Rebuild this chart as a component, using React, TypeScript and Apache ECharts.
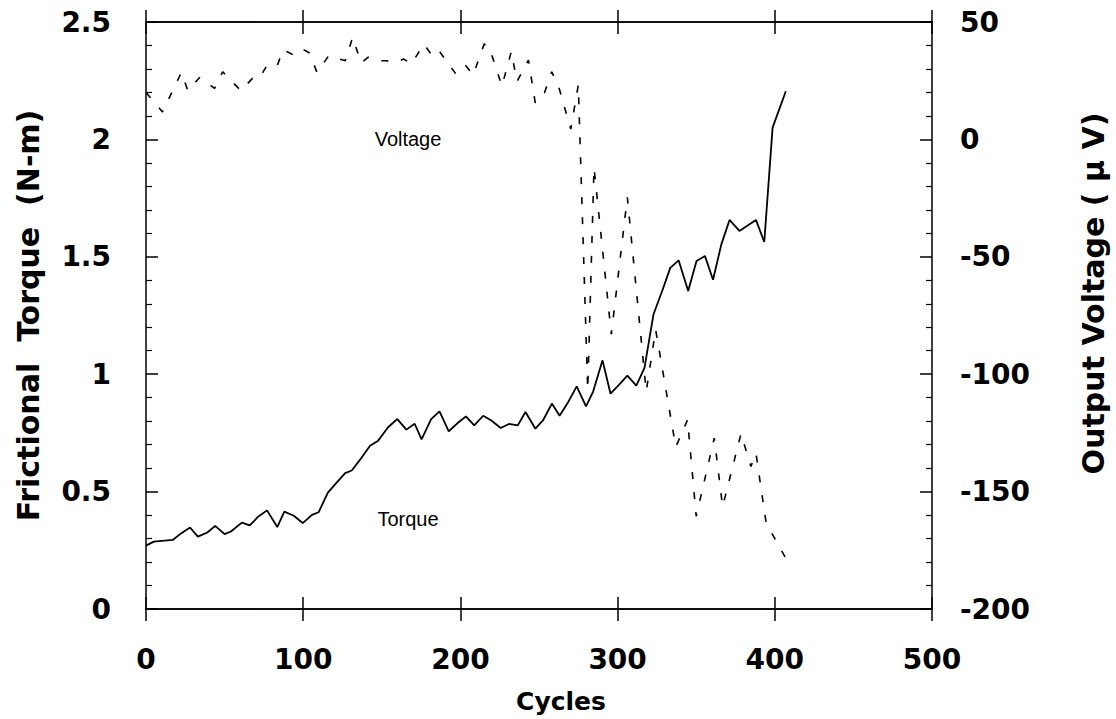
import React, { useEffect, useRef } from "react";
import * as echarts from "echarts";

const torqueCycles = [0, 5, 17, 22.5, 28, 33, 39, 44, 50, 54, 61, 66, 71.5, 77, 83.5, 88, 94, 99.7, 105.6, 109.8, 115.7, 121.4, 126.7, 130.9, 136.2, 142.5, 147.7, 154, 159.9, 165.6, 170.9, 175.3, 181.4, 186.7, 192.6, 198.2, 203.5, 208.8, 214.5, 219.7, 225.6, 230.9, 236.5, 241.4, 247.7, 252.5, 258.2, 263.1, 268.8, 274, 279.9, 284.5, 290.4, 295.5, 301, 306.2, 311.9, 317.1, 322.8, 328.7, 333.5, 338.8, 344.9, 350.2, 355.6, 360.7, 366, 371.2, 377.5, 388, 393.3, 398.6, 407];
const torqueValues = [0.27, 0.287, 0.294, 0.323, 0.347, 0.308, 0.326, 0.354, 0.319, 0.33, 0.368, 0.356, 0.394, 0.42, 0.349, 0.415, 0.397, 0.366, 0.401, 0.412, 0.496, 0.539, 0.579, 0.59, 0.636, 0.695, 0.717, 0.774, 0.809, 0.764, 0.789, 0.722, 0.809, 0.842, 0.757, 0.792, 0.82, 0.782, 0.823, 0.803, 0.771, 0.788, 0.782, 0.839, 0.768, 0.803, 0.875, 0.823, 0.884, 0.948, 0.863, 0.927, 1.059, 0.917, 0.956, 0.994, 0.951, 1.027, 1.254, 1.361, 1.453, 1.485, 1.354, 1.482, 1.503, 1.402, 1.553, 1.657, 1.61, 1.657, 1.563, 2.05, 2.205];

const voltageCycles = [0, 10.5, 22.5, 26.7, 34.1, 43.6, 48.8, 60.4, 67.7, 72, 77.2, 83.5, 87.1, 93, 98.7, 104, 108.8, 116.2, 126.7, 131.5, 136.8, 141.4, 147.7, 153, 158.3, 164, 168.8, 176.8, 181.4, 185.6, 197.2, 203.5, 208.1, 215.1, 218.2, 226.4, 232.4, 236, 243.3, 247.6, 253.5, 258.1, 262.8, 270.2, 275, 281, 285, 296, 306.2, 318.2, 324.2, 337, 344.5, 350, 361.5, 366.8, 378.5, 384.8, 388, 394.5, 407];
const voltageValues = [20, 11.7, 28.5, 20.7, 26.4, 21.7, 28.8, 20.7, 26, 26, 31.7, 31.4, 38.2, 36.3, 38.8, 36.8, 28.5, 35.6, 33.5, 43.5, 32.5, 35, 33.5, 33.5, 32.8, 34.2, 32.1, 40.6, 36.3, 38.5, 27.8, 31.4, 27.4, 40.6, 39.6, 22.7, 37.4, 24.6, 33.8, 15.6, 19.9, 28.8, 21.8, 4.4, 23.2, -106.7, -12, -83, -24.7, -107.4, -81, -131, -119.4, -160.5, -127.2, -156.4, -125.3, -139.3, -133.6, -163.4, -178.4];

const xTitle = "Cycles";
const leftTitle = "Frictional  Torque  (N-m)";
const rightTitle = "Output Voltage ( \u03BC V)";
const torqueLabel = "Torque";
const voltageLabel = "Voltage";

const labelFont = {
  fontFamily: "DejaVu Sans",
  fontWeight: "bold" as const,
  fontSize: 28,
  color: "#000",
};

function makeX(position: "top" | "bottom", inside: boolean, withLabels: boolean) {
  return {
    type: "value",
    position,
    min: 0,
    max: 500,
    interval: 100,
    axisLine: { show: true, onZero: false, lineStyle: { color: "#000", width: 1.5 } },
    axisTick: { show: true, inside, length: 12, lineStyle: { color: "#000", width: 1.5 } },
    axisLabel: withLabels ? { show: true, margin: 36, ...labelFont } : { show: false },
    splitLine: { show: false },
    name: withLabels ? xTitle : "",
    nameLocation: "middle",
    nameGap: 80,
    nameTextStyle: { fontFamily: "DejaVu Sans", fontWeight: "bold", fontSize: 25, color: "#000", padding: [0, 0, 0, 44] },
  };
}

export default function App() {
  const ref = useRef<HTMLDivElement>(null);
  useEffect(() => {
    if (!ref.current) return;
    const chart = echarts.init(ref.current, undefined, { renderer: "svg" });
    const torqueData = torqueCycles.map((c, i) => [c, torqueValues[i]]);
    const voltageData = voltageCycles.map((c, i) => [c, voltageValues[i]]);
    chart.setOption({
      animation: false,
      backgroundColor: "#fff",
      grid: { left: 146, right: 181, top: 22, bottom: 110, containLabel: false },
      xAxis: [
        makeX("bottom", true, true),
        makeX("bottom", false, false),
        makeX("top", true, false),
        makeX("top", false, false),
      ],
      yAxis: [
        {
          type: "value",
          position: "left",
          min: 0,
          max: 2.5,
          interval: 0.5,
          axisLine: { show: true, onZero: false, lineStyle: { color: "#000", width: 1.5 } },
          axisTick: { show: true, inside: true, length: 12, lineStyle: { color: "#000", width: 1.5 } },
          minorTick: { show: true, splitNumber: 5, length: 6, lineStyle: { color: "#000", width: 1.2 } },
          axisLabel: { margin: 35, ...labelFont },
          splitLine: { show: false },
          minorSplitLine: { show: false },
          name: leftTitle,
          nameLocation: "middle",
          nameGap: 103,
          nameRotate: 90,
          nameTextStyle: { fontFamily: "DejaVu Sans", fontWeight: "bold", fontSize: 30, color: "#000" },
        },
        {
          type: "value",
          position: "right",
          min: -200,
          max: 50,
          interval: 50,
          axisLine: { show: true, onZero: false, lineStyle: { color: "#000", width: 1.5 } },
          axisTick: { show: true, inside: true, length: 12, lineStyle: { color: "#000", width: 1.5 } },
          minorTick: { show: true, splitNumber: 5, length: 6, lineStyle: { color: "#000", width: 1.2 } },
          axisLabel: { margin: 28, ...labelFont },
          splitLine: { show: false },
          minorSplitLine: { show: false },
          name: rightTitle,
          nameLocation: "middle",
          nameGap: 146,
          nameRotate: 90,
          nameTextStyle: { fontFamily: "DejaVu Sans", fontWeight: "bold", fontSize: 30, color: "#000", padding: [0, 0, 0, 44] },
        },
      ],
      series: [
        {
          name: torqueLabel,
          type: "line",
          xAxisIndex: 0,
          yAxisIndex: 0,
          data: torqueData,
          symbol: "none",
          lineStyle: { color: "#000", width: 1.8 },
        },
        {
          name: voltageLabel,
          type: "line",
          xAxisIndex: 0,
          yAxisIndex: 1,
          data: voltageData,
          symbol: "none",
          lineStyle: { color: "#000", width: 1.6, type: [7, 13] },
        },
      ],
      graphic: [
        {
          type: "text",
          x: 408,
          y: 139,
          style: {
            text: voltageLabel,
            font: '20px "Liberation Sans"',
            fill: "#000",
            textAlign: "center",
            textVerticalAlign: "middle",
            align: "center",
            verticalAlign: "middle",
          },
        },
        {
          type: "text",
          x: 408,
          y: 519,
          style: {
            text: torqueLabel,
            font: '20px "Liberation Sans"',
            fill: "#000",
            textAlign: "center",
            textVerticalAlign: "middle",
            align: "center",
            verticalAlign: "middle",
          },
        },
      ],
    });
    return () => chart.dispose();
  }, []);
  return (
    <div
      ref={ref}
      style={{ position: "fixed", left: 0, top: 0, width: 1116, height: 719, background: "#fff" }}
    />
  );
}
